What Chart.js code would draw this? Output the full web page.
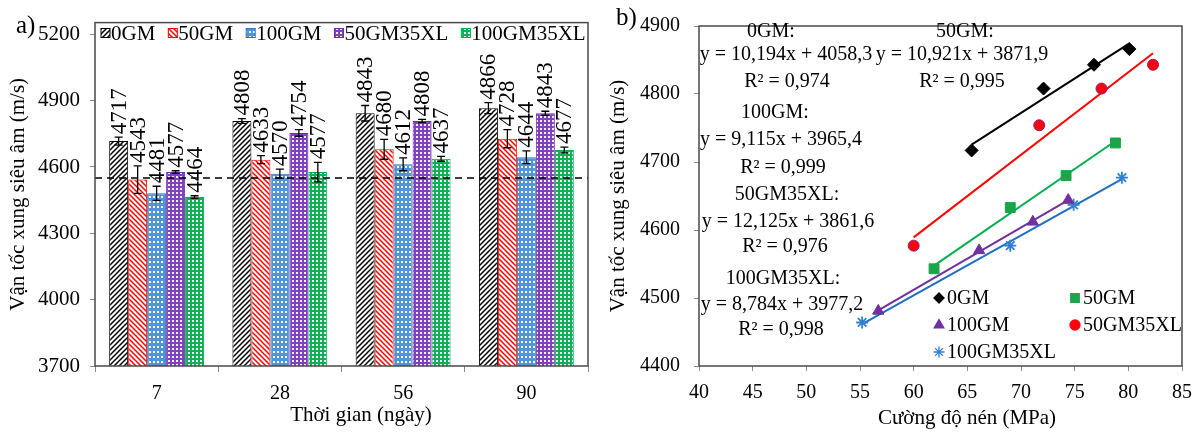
<!DOCTYPE html>
<html>
<head>
<meta charset="utf-8">
<script src="https://cdn.jsdelivr.net/npm/chart.js@4.4.0/dist/chart.umd.min.js"></script>
<style>
  html, body { margin: 0; padding: 0; background: #fff; }
  #wrap { position: relative; width: 1202px; height: 436px; }
  canvas { position: absolute; top: 0; }
</style>
</head>
<body>
<div id="wrap">
  <canvas id="chartA" width="600" height="436" style="left:0"></canvas>
  <canvas id="chartB" width="602" height="436" style="left:600px"></canvas>
</div>
<script>
// Dữ liệu hình a) - vận tốc xung siêu âm theo thời gian
const days = ['7', '28', '56', '90'];
const seriesNames = ['0GM', '50GM', '100GM', '50GM35XL', '100GM35XL'];
const vel0GM = [4717, 4808, 4843, 4866];
const vel50GM = [4543, 4633, 4680, 4728];
const vel100GM = [4481, 4570, 4612, 4644];
const vel50GM35XL = [4577, 4754, 4808, 4843];
const vel100GM35XL = [4464, 4577, 4637, 4677];
const err0GM = [18, 11, 35, 25];
const err50GM = [62, 18, 45, 41];
const err100GM = [32, 20, 29, 29];
const err50GM35XL = [6, 15, 7, 9];
const err100GM35XL = [6, 44, 11, 13];
const yTicksA = [3700, 4000, 4300, 4600, 4900, 5200];
const dashLevel = 4550;

// Dữ liệu hình b) - cường độ nén (MPa)
const str0GM = [65.4, 72.1, 76.8, 80.1];
const str50GM = [61.9, 69.0, 74.2, 78.8];
const str100GM = [56.7, 66.1, 71.1, 74.4];
const str50GM35XL = [60.0, 71.7, 77.5, 82.3];
const str100GM35XL = [55.2, 69.0, 74.9, 79.4];

// Phương trình hiển thị trên hình b)
const eqTexts = [
  ['0GM:', 171, 32], ['y = 10,194x + 4058,3', 186, 55], ['R² = 0,974', 187, 82],
  ['100GM:', 175, 113], ['y = 9,115x + 3965,4', 181, 140], ['R² = 0,999', 183, 168],
  ['50GM35XL:', 187, 195], ['y = 12,125x + 3861,6', 188, 222], ['R² = 0,976', 185, 247],
  ['100GM35XL:', 183, 279], ['y = 8,784x + 3977,2', 182, 305], ['R² = 0,998', 181, 330],
  ['50GM:', 365, 32], ['y = 10,921x + 3871,9', 362, 55], ['R² = 0,995', 362, 82]
];

const FONT = '"Liberation Serif", "Times New Roman", serif';
Chart.defaults.font.family = FONT;
Chart.defaults.color = '#000';

// Tạo pattern cho cột
function makePattern(kind, color) {
  const c = document.createElement('canvas');
  const g = c.getContext('2d');
  if (kind === 'up' || kind === 'down') {
    const s = 5;
    c.width = s; c.height = s;
    g.fillStyle = '#fff';
    g.fillRect(0, 0, s, s);
    g.strokeStyle = color;
    g.lineWidth = 1.5;
    g.beginPath();
    if (kind === 'up') {
      g.moveTo(-1, s + 1); g.lineTo(s + 1, -1);
      g.moveTo(-1, 1); g.lineTo(1, -1);
      g.moveTo(s - 1, s + 1); g.lineTo(s + 1, s - 1);
    } else {
      g.moveTo(-1, -1); g.lineTo(s + 1, s + 1);
      g.moveTo(s - 1, -1); g.lineTo(s + 1, 1);
      g.moveTo(-1, s - 1); g.lineTo(1, s + 1);
    }
    g.stroke();
  } else if (kind === 'grid') {
    c.width = 4; c.height = 5;
    g.fillStyle = color;
    g.fillRect(0, 0, 4, 5);
    g.fillStyle = '#ffffff';
    g.fillRect(1, 1, 2, 2);
  } else {
    c.width = 4; c.height = 4;
    g.fillStyle = color;
    g.fillRect(0, 0, 4, 4);
    g.fillStyle = '#f4eefa';
    g.fillRect(0, 0, 2, 2);
  }
  return document.createElement('canvas').getContext('2d').createPattern(c, 'repeat');
}

const barBorders = ['#000000', '#ff0000', '#2e75b6', '#7030a0', '#00b050'];
const barFills = [
  makePattern('up', '#000'),
  makePattern('down', '#ff0000'),
  makePattern('grid', '#4f95d8'),
  makePattern('check', '#8040c0'),
  makePattern('check', '#10b055')
];
const velData = [vel0GM, vel50GM, vel100GM, vel50GM35XL, vel100GM35XL];
const errData = [err0GM, err50GM, err100GM, err50GM35XL, err100GM35XL];

// Plugin vẽ thanh sai số, nhãn số liệu, đường nét đứt, khung và chú thích
const barExtras = {
  id: 'barExtras',
  afterDatasetsDraw(chart) {
    const ctx = chart.ctx;
    const y = chart.scales.y;
    const area = chart.chartArea;
    ctx.save();
    chart.data.datasets.forEach((ds, i) => {
      const meta = chart.getDatasetMeta(i);
      meta.data.forEach((bar, j) => {
        const v = ds.data[j];
        const e = errData[i][j];
        const yt = y.getPixelForValue(v + e);
        const yb = y.getPixelForValue(v - e);
        ctx.strokeStyle = '#000';
        ctx.lineWidth = 1.3;
        ctx.beginPath();
        ctx.moveTo(bar.x, yt); ctx.lineTo(bar.x, yb);
        ctx.moveTo(bar.x - 4, yt); ctx.lineTo(bar.x + 4, yt);
        ctx.moveTo(bar.x - 4, yb); ctx.lineTo(bar.x + 4, yb);
        ctx.stroke();
        ctx.save();
        ctx.translate(bar.x, yt - 3);
        ctx.rotate(-Math.PI / 2);
        ctx.fillStyle = '#000';
        ctx.font = '23px ' + FONT;
        ctx.textAlign = 'left';
        ctx.textBaseline = 'middle';
        ctx.fillText(String(v), 0, 1);
        ctx.restore();
      });
    });
    // đường nét đứt
    const yd = y.getPixelForValue(dashLevel);
    ctx.setLineDash([7, 5]);
    ctx.lineWidth = 1.5;
    ctx.strokeStyle = '#000';
    ctx.beginPath();
    ctx.moveTo(area.left, yd); ctx.lineTo(area.right, yd);
    ctx.stroke();
    ctx.restore();
  },
  afterDraw(chart) {
    const ctx = chart.ctx;
    const a = chart.chartArea;
    ctx.save();
    ctx.strokeStyle = '#4a4a4a';
    ctx.lineWidth = 1.5;
    ctx.strokeRect(a.left, a.top, a.right - a.left, a.bottom - a.top);
    // chú thích
    ctx.font = '21px ' + FONT;
    ctx.textBaseline = 'middle';
    let x = 101;
    seriesNames.forEach((n, i) => {
      ctx.fillStyle = barFills[i];
      ctx.fillRect(x, 28.5, 9, 9);
      ctx.strokeStyle = barBorders[i];
      ctx.lineWidth = 1;
      ctx.strokeRect(x, 28.5, 9, 9);
      ctx.fillStyle = '#000';
      ctx.fillText(n, x + 10, 34);
      x += 10 + ctx.measureText(n).width + 13;
    });
    // nhãn trục hoành và ký hiệu a)
    ctx.textAlign = 'center';
    ctx.fillText('Thời gian (ngày)', 361, 415);
    ctx.textAlign = 'left';
    ctx.textBaseline = 'alphabetic';
    ctx.font = '25px ' + FONT;
    ctx.fillText('a)', 16, 33);
    ctx.restore();
  }
};

const plainTick = v => String(v);

new Chart(document.getElementById('chartA'), {
  type: 'bar',
  data: {
    labels: days,
    datasets: seriesNames.map((n, i) => ({
      label: n,
      data: velData[i],
      backgroundColor: barFills[i],
      borderColor: barBorders[i],
      borderWidth: 1,
      categoryPercentage: 0.77,
      barPercentage: 1
    }))
  },
  options: {
    responsive: false,
    animation: false,
    layout: { padding: { top: 15, right: 12, left: 0, bottom: 0 } },
    plugins: { legend: { display: false }, tooltip: { enabled: false } },
    scales: {
      x: {
        grid: { drawOnChartArea: false, drawTicks: true, tickLength: 6, color: '#8c8c8c', offset: true },
        border: { display: false },
        ticks: { font: { size: 20 }, color: '#000', padding: 10 },
        afterFit(s) { s.height = 70; }
      },
      y: {
        min: 3700,
        max: 5253,
        afterBuildTicks(s) { s.ticks = yTicksA.map(v => ({ value: v })); },
        grid: { drawOnChartArea: false, tickLength: 5, color: '#8c8c8c' },
        border: { display: false },
        ticks: { font: { size: 21 }, color: '#000', padding: 10, callback: plainTick },
        title: { display: true, text: 'Vận tốc xung siêu âm (m/s)', font: { size: 21 }, color: '#000', padding: { top: 6, bottom: 0 } },
        afterFit(s) { s.width = 95; }
      }
    }
  },
  plugins: [barExtras]
});

// Hình b)
function fitLine(xs, ys) {
  const n = xs.length;
  const mx = xs.reduce((a, b) => a + b, 0) / n;
  const my = ys.reduce((a, b) => a + b, 0) / n;
  let sxy = 0, sxx = 0;
  for (let i = 0; i < n; i++) {
    sxy += (xs[i] - mx) * (ys[i] - my);
    sxx += (xs[i] - mx) * (xs[i] - mx);
  }
  const k = sxy / sxx;
  const b = my - k * mx;
  const x0 = Math.min(...xs), x1 = Math.max(...xs);
  return [{ x: x0, y: k * x0 + b }, { x: x1, y: k * x1 + b }];
}

const strData = [str0GM, str50GM, str100GM, str50GM35XL, str100GM35XL];
const lineColors = ['#000000', '#00b050', '#7030a0', '#ff0000', '#1f6fc0'];
const markerStyles = ['rectRot', 'rect', 'triangle', 'circle', 'star'];
const markerSizes = [6.5, 7, 6.5, 5.5, 6];
const markerFill = ['#000000', '#1aa54a', '#7030a0', '#ff0010', '#2f80d0'];
const markerBorder = ['#000000', '#1aa54a', '#7030a0', '#8a2070', '#2f80d0'];
const orderB = [0, 1, 2, 3, 4]; // 0GM, 50GM, 100GM, 50GM35XL, 100GM35XL

const pointSets = orderB.map(i => ({
  type: 'scatter',
  label: seriesNames[i],
  data: strData[i].map((x, j) => ({ x: x, y: velData[i][j] })),
  pointStyle: markerStyles[i],
  pointRadius: markerSizes[i],
  backgroundColor: markerFill[i],
  borderColor: markerBorder[i],
  borderWidth: i === 4 ? 1.8 : 1,
  showLine: false
}));
const trendSets = orderB.map(i => ({
  type: 'line',
  label: seriesNames[i] + ' trend',
  data: fitLine(strData[i], velData[i]),
  borderColor: lineColors[i],
  borderWidth: 2,
  pointRadius: 0,
  fill: false
}));

const scatterExtras = {
  id: 'scatterExtras',
  afterDraw(chart) {
    const ctx = chart.ctx;
    const a = chart.chartArea;
    ctx.save();
    ctx.strokeStyle = '#4a4a4a';
    ctx.lineWidth = 1.5;
    ctx.strokeRect(a.left, a.top, a.right - a.left, a.bottom - a.top);
    ctx.fillStyle = '#000';
    ctx.font = '20px ' + FONT;
    ctx.textAlign = 'center';
    ctx.textBaseline = 'middle';
    eqTexts.forEach(t => ctx.fillText(t[0], t[1], t[2]));
    // chú thích
    const legPos = [[339, 298], [475, 298], [339, 325], [475, 325], [339, 352]];
    const legR = [5, 6, 5.5, 5, 5.5];
    ctx.font = '20px ' + FONT;
    ctx.textAlign = 'left';
    orderB.forEach((i, k) => {
      const p = legPos[k];
      ctx.fillStyle = markerFill[i];
      ctx.strokeStyle = markerFill[i];
      ctx.lineWidth = 1.3;
      Chart.helpers.drawPoint(ctx, { pointStyle: markerStyles[i], radius: legR[i], borderWidth: 1.3 }, p[0], p[1]);
      ctx.fillStyle = '#000';
      ctx.fillText(seriesNames[i], p[0] + 8, p[1] + 1);
    });
    ctx.textAlign = 'center';
    ctx.font = '21px ' + FONT;
    ctx.fillText('Cường độ nén (MPa)', 367, 418);
    ctx.textAlign = 'left';
    ctx.textBaseline = 'alphabetic';
    ctx.font = '25px ' + FONT;
    ctx.fillText('b)', 16, 25);
    ctx.restore();
  }
};

new Chart(document.getElementById('chartB'), {
  type: 'scatter',
  data: { datasets: pointSets.concat(trendSets) },
  options: {
    responsive: false,
    animation: false,
    layout: { padding: { top: 15, right: 17, left: 0, bottom: 0 } },
    plugins: { legend: { display: false }, tooltip: { enabled: false } },
    scales: {
      x: {
        type: 'linear',
        min: 40, max: 85,
        ticks: { stepSize: 5, font: { size: 20 }, color: '#000', padding: 10, callback: plainTick },
        grid: { drawOnChartArea: false, tickLength: 5, color: '#8c8c8c' },
        border: { display: false },
        afterFit(s) { s.height = 70; }
      },
      y: {
        min: 4400, max: 4900,
        ticks: { stepSize: 100, font: { size: 20 }, color: '#000', padding: 14, callback: plainTick },
        grid: { drawOnChartArea: false, tickLength: 5, color: '#8c8c8c' },
        border: { display: false },
        title: { display: true, text: 'Vận tốc xung siêu âm (m/s)', font: { size: 21 }, color: '#000', padding: { top: 6, bottom: 0 } },
        afterFit(s) { s.width = 99; }
      }
    }
  },
  plugins: [scatterExtras]
});
</script>
</body>
</html>
